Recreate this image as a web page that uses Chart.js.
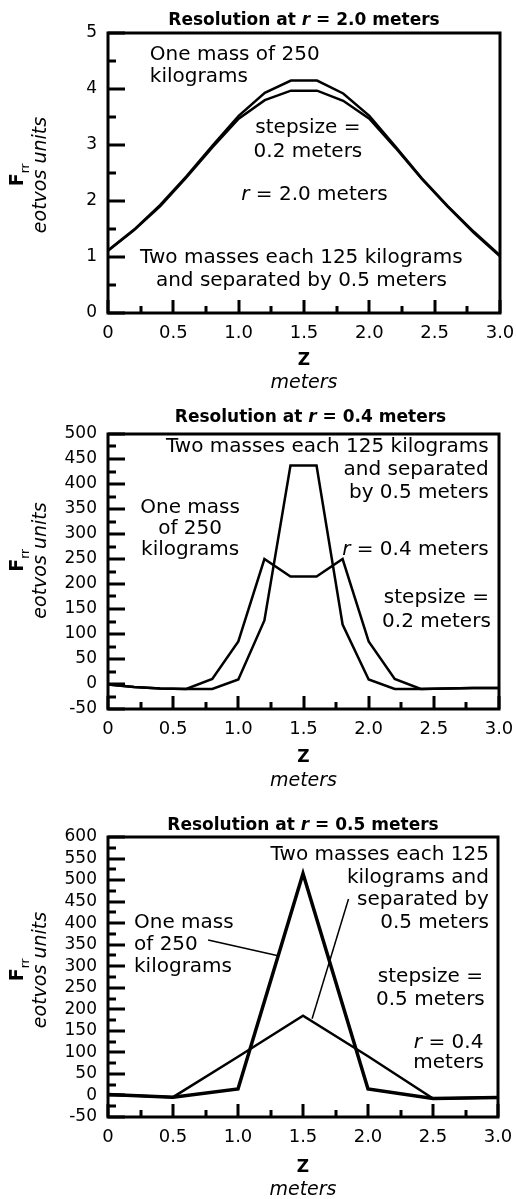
<!DOCTYPE html>
<html>
<head>
<meta charset="utf-8">
<script src="https://cdn.jsdelivr.net/npm/chart.js@4.4.1/dist/chart.umd.min.js"></script>
<style>
  html, body { margin: 0; padding: 0; background: #fff; }
  .panel { position: absolute; left: 0; width: 516px; }
  canvas { display: block; }
</style>
</head>
<body>
<div class="panel" style="top:0"><canvas id="chartR20" width="516" height="395"></canvas></div>
<div class="panel" style="top:395px"><canvas id="chartR04" width="516" height="395"></canvas></div>
<div class="panel" style="top:790px"><canvas id="chartR05" width="516" height="409"></canvas></div>
<script>
// Z positions (meters)
const zStep02 = [0, 0.2, 0.4, 0.6, 0.8, 1.0, 1.2, 1.4, 1.6, 1.8, 2.0, 2.2, 2.4, 2.6, 2.8, 3.0];
const zStep05 = [0, 0.5, 1.0, 1.5, 2.0, 2.5, 3.0];

// Resolution at r = 2.0 m
const r20OneMass = [1.12, 1.49, 1.93, 2.44, 2.99, 3.52, 3.93, 4.15, 4.15, 3.92, 3.52, 2.97, 2.41, 1.91, 1.45, 1.03];
const r20TwoMasses = [1.11, 1.48, 1.91, 2.42, 2.96, 3.47, 3.80, 3.97, 3.97, 3.79, 3.47, 2.95, 2.40, 1.90, 1.43, 1.01];

// Resolution at r = 0.4 m
const r04OneMass = [-1, -6, -9, -10, -10, 9, 127, 437, 437, 119, 9, -10, -10, -9, -8, -8];
const r04TwoMasses = [-1, -6, -9, -10, 10, 85, 250, 215, 215, 250, 85, 10, -10, -9, -8, -8];

// Resolution at r = 0.5 m (stepsize 0.5)
const r05OneMass = [2, -4, 15, 515, 15, -7, -5];
const r05TwoMasses = [2, -4, 90, 185, 91, -7, -5];

// tick labels
const zTickLabels = ['0', '0.5', '1.0', '1.5', '2.0', '2.5', '3.0'];
const r20TickLabels = ['0', '1', '2', '3', '4', '5'];
const r04TickLabels = ['-50', '0', '50', '100', '150', '200', '250', '300', '350', '400', '450', '500'];
const r05TickLabels = ['-50', '0', '50', '100', '150', '200', '250', '300', '350', '400', '450', '500', '550', '600'];

const FONT = "'DejaVu Sans', sans-serif";

// draw text where *...* parts are italic
function drawRich(ctx, text, x, y, align, size, weight) {
    const parts = text.split('*').map((t, i) => ({ t: t, it: i % 2 === 1 })).filter(p => p.t);
    const fontOf = p => `${p.it ? 'italic ' : ''}${weight || 'normal'} ${size}px ${FONT}`;
    let total = 0;
    parts.forEach(p => {
        ctx.font = fontOf(p);
        p.w = ctx.measureText(p.t).width;
        total += p.w;
    });
    let cx = align === 'left' ? x : align === 'right' ? x - total : x - total / 2;
    ctx.textAlign = 'left';
    ctx.textBaseline = 'alphabetic';
    parts.forEach(p => {
        ctx.font = fontOf(p);
        ctx.fillText(p.t, cx, y);
        cx += p.w;
    });
}

// frame, inward ticks, titles and text notes
function makeDecor(d) {
    return {
        id: 'decor',
        afterDraw(chart) {
            const ctx = chart.ctx;
            const a = chart.chartArea;
            const xs = chart.scales.x;
            const ys = chart.scales.y;
            ctx.save();
            ctx.strokeStyle = '#000';
            ctx.fillStyle = '#000';

            // frame
            ctx.lineWidth = 3;
            ctx.strokeRect(a.left, a.top, a.right - a.left, a.bottom - a.top);

            // ticks pointing into the plot: long at each labelled tick, short halfway between
            ctx.lineWidth = 3;
            ctx.beginPath();
            for (let i = 0; i < zTickLabels.length; i++) {
                const v = xs.min + i * (xs.max - xs.min) / (zTickLabels.length - 1);
                const px = Math.round(xs.getPixelForValue(v));
                ctx.moveTo(px, a.bottom);
                ctx.lineTo(px, a.bottom - 13);
                if (i < zTickLabels.length - 1) {
                    const pm = Math.round(xs.getPixelForValue(v + (xs.max - xs.min) / (zTickLabels.length - 1) / 2));
                    ctx.moveTo(pm, a.bottom);
                    ctx.lineTo(pm, a.bottom - 7);
                }
            }
            const ny = d.yCount - 1;
            for (let i = 0; i <= ny; i++) {
                const step = (ys.max - ys.min) / ny;
                const v = ys.min + i * step;
                const py = Math.round(ys.getPixelForValue(v));
                ctx.moveTo(a.left, py);
                ctx.lineTo(a.left + 17, py);
                if (i < ny) {
                    const pm = Math.round(ys.getPixelForValue(v + step / 2));
                    ctx.moveTo(a.left, pm);
                    ctx.lineTo(a.left + 8, pm);
                }
            }
            ctx.stroke();

            // title
            const cx = (a.left + a.right) / 2;
            drawRich(ctx, d.title, cx + (d.titleDx || 0), a.top - d.titleGap, 'center', 17, 'bold');

            // x axis title
            drawRich(ctx, 'Z', cx, a.bottom + d.xTitle[0], 'center', 17, 'bold');
            drawRich(ctx, '*meters*', cx, a.bottom + d.xTitle[1], 'center', 19);

            // y axis title (rotated)
            const cy = (a.top + a.bottom) / 2 + d.yTitleDy;
            ctx.save();
            ctx.translate(0, cy);
            ctx.rotate(-Math.PI / 2);
            ctx.font = `bold 19px ${FONT}`;
            const fw = ctx.measureText('F').width;
            ctx.font = `normal 12px ${FONT}`;
            const rw = ctx.measureText('rr').width;
            const start = -(fw + rw) / 2;
            ctx.textAlign = 'left';
            ctx.textBaseline = 'alphabetic';
            ctx.font = `bold 19px ${FONT}`;
            ctx.fillText('F', start, 23);
            ctx.font = `normal 12px ${FONT}`;
            ctx.fillText('rr', start + fw, 29);
            drawRich(ctx, '*eotvos units*', 0, 46, 'center', 19);
            ctx.restore();

            // notes inside the plot
            d.notes.forEach(n => {
                const px = xs.getPixelForValue(n.x);
                const py = ys.getPixelForValue(n.y);
                n.lines.forEach((line, i) => {
                    drawRich(ctx, line, px, py + i * n.lh, n.align, 20);
                });
            });

            // leader lines
            ctx.lineWidth = 1.5;
            (d.leaders || []).forEach(l => {
                ctx.beginPath();
                ctx.moveTo(xs.getPixelForValue(l[0][0]), ys.getPixelForValue(l[0][1]));
                ctx.lineTo(xs.getPixelForValue(l[1][0]), ys.getPixelForValue(l[1][1]));
                ctx.stroke();
            });

            ctx.restore();
        }
    };
}

function makeChart(id, cfg) {
    const canvas = document.getElementById(id);
    return new Chart(canvas, {
        type: 'line',
        data: {
            datasets: cfg.series.map(s => ({
                label: s.label,
                data: cfg.z.map((z, i) => ({ x: z, y: s.values[i] })),
                borderColor: '#000',
                borderWidth: s.width,
                borderJoinStyle: 'miter',
                pointRadius: 0,
                tension: 0,
                fill: false
            }))
        },
        options: {
            responsive: false,
            animation: false,
            devicePixelRatio: 1,
            layout: { padding: { top: cfg.top, right: cfg.right, left: 0, bottom: 0 } },
            plugins: {
                legend: { display: false },
                tooltip: { enabled: false }
            },
            scales: {
                x: {
                    type: 'linear',
                    min: 0,
                    max: 3,
                    grid: { display: false, drawTicks: false },
                    border: { display: false },
                    ticks: {
                        stepSize: 0.5,
                        autoSkip: false,
                        maxRotation: 0,
                        padding: 10,
                        color: '#000',
                        font: { family: FONT, size: 18 },
                        callback: (v, i) => zTickLabels[i]
                    },
                    afterFit: s => {
                        s.height = canvas.height - cfg.bottom;
                        s.paddingLeft = 0;
                        s.paddingRight = 0;
                    }
                },
                y: {
                    min: cfg.yMin,
                    max: cfg.yMax,
                    grid: { display: false, drawTicks: false },
                    border: { display: false },
                    ticks: {
                        stepSize: cfg.yStep,
                        autoSkip: false,
                        padding: 11,
                        color: '#000',
                        font: { family: FONT, size: 17 },
                        callback: (v, i) => cfg.yLabels[i]
                    },
                    afterFit: s => {
                        s.width = 108;
                        s.paddingTop = 0;
                        s.paddingBottom = 0;
                    }
                }
            }
        },
        plugins: [makeDecor(Object.assign({ yCount: cfg.yLabels.length }, cfg.decor))]
    });
}

makeChart('chartR20', {
    z: zStep02,
    series: [
        { label: 'One mass of 250 kilograms', values: r20OneMass, width: 2.5 },
        { label: 'Two masses each 125 kilograms', values: r20TwoMasses, width: 2.5 }
    ],
    top: 33, bottom: 313, right: 16,
    yMin: 0, yMax: 5, yStep: 1, yLabels: r20TickLabels,
    decor: {
        title: 'Resolution at *r* = 2.0 meters', titleGap: 8,
        xTitle: [52, 75], yTitleDy: 2,
        notes: [
            { x: 0.32, y: 4.52, align: 'left', lh: 22, lines: ['One mass of 250', 'kilograms'] },
            { x: 1.53, y: 3.21, align: 'center', lh: 24, lines: ['stepsize =', '0.2 meters'] },
            { x: 1.58, y: 2.02, align: 'center', lh: 24, lines: ['*r* = 2.0 meters'] },
            { x: 1.48, y: 0.89, align: 'center', lh: 23, lines: ['Two masses each 125 kilograms', 'and separated by 0.5 meters'] }
        ]
    }
});

makeChart('chartR04', {
    z: zStep02,
    series: [
        { label: 'One mass of 250 kilograms', values: r04OneMass, width: 2.5 },
        { label: 'Two masses each 125 kilograms', values: r04TwoMasses, width: 2.5 }
    ],
    top: 39, bottom: 314, right: 17,
    yMin: -50, yMax: 500, yStep: 50, yLabels: r04TickLabels,
    decor: {
        title: 'Resolution at *r* = 0.4 meters', titleGap: 12, titleDx: 7,
        xTitle: [53, 77], yTitleDy: -11,
        notes: [
            { x: 2.92, y: 465, align: 'right', lh: 23, lines: ['Two masses each 125 kilograms', 'and separated', 'by 0.5 meters'] },
            { x: 0.63, y: 343, align: 'center', lh: 21, lines: ['One mass', 'of 250', 'kilograms'] },
            { x: 2.92, y: 259, align: 'right', lh: 24, lines: ['*r* = 0.4 meters'] },
            { x: 2.52, y: 163, align: 'center', lh: 24, lines: ['stepsize =', '0.2 meters'] }
        ]
    }
});

makeChart('chartR05', {
    z: zStep05,
    series: [
        { label: 'One mass of 250 kilograms', values: r05OneMass, width: 3.5 },
        { label: 'Two masses each 125 kilograms', values: r05TwoMasses, width: 2.5 }
    ],
    top: 47, bottom: 327, right: 18,
    yMin: -50, yMax: 600, yStep: 50, yLabels: r05TickLabels,
    decor: {
        title: 'Resolution at *r* = 0.5 meters', titleGap: 7,
        xTitle: [55, 78], yTitleDy: -7,
        notes: [
            { x: 2.93, y: 546, align: 'right', lh: 22.5, lines: ['Two masses each 125', 'kilograms and', 'separated by', '0.5 meters'] },
            { x: 0.2, y: 389, align: 'left', lh: 22, lines: ['One mass', 'of 250', 'kilograms'] },
            { x: 2.48, y: 264, align: 'center', lh: 23, lines: ['stepsize =', '0.5 meters'] },
            { x: 2.62, y: 111, align: 'center', lh: 20, lines: ['*r* = 0.4', 'meters'] }
        ],
        leaders: [
            [[0.77, 361], [1.30, 325]],
            [[1.85, 456], [1.57, 178]]
        ]
    }
});
</script>
</body>
</html>
